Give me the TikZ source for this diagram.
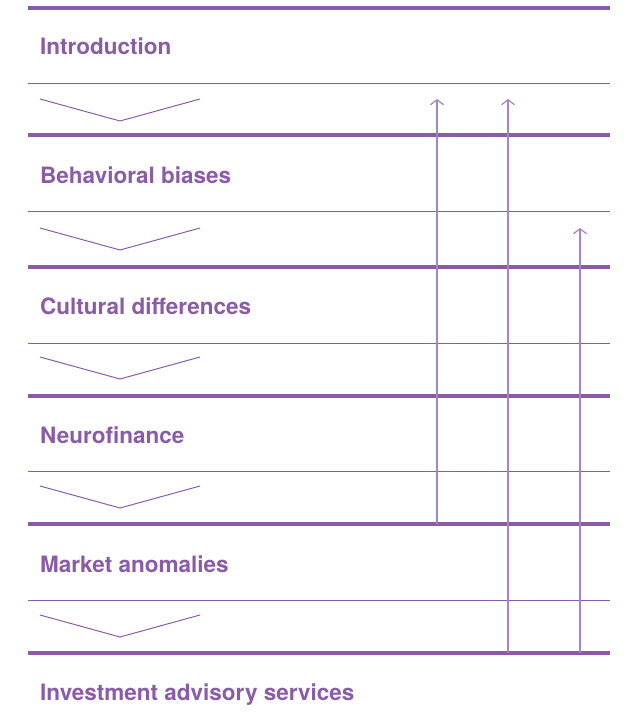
\documentclass[tikz,border=0pt]{standalone}
\usepackage{fontspec}
\setmainfont{TeX Gyre Heros}
\usetikzlibrary{arrows.meta}
\definecolor{pp}{HTML}{8A5CA8}
\definecolor{pl}{HTML}{A584C4}
\begin{document}
\begin{tikzpicture}[x=1pt,y=-1pt,
  thickrule/.style={draw=pp,line width=3.6pt},
  thinrule/.style={draw=pp,line width=1pt},
  chev/.style={draw=pp,line width=1pt},
  title/.style={anchor=base west,text=pp,font=\fontsize{22.5}{26}\selectfont\bfseries,inner sep=0pt},
  uparrow/.style={draw=pl,line width=1.2pt,-{Straight Barb[length=5pt,width=13pt]}}]
\useasboundingbox (0,0) rectangle (625,725);
% rules
\foreach \y in {8,135,267,396,524,653} \draw[thickrule] (28,\y) -- (610,\y);
\foreach \y in {83,211,343,471,600} \draw[thinrule] (28,\y) -- (610,\y);
% chevrons
\foreach \y in {99,228,357,486,615} \draw[chev] (40,\y) -- (120,\y+22) -- (200,\y);
% titles
\node[title] (intro) at (40,55) {Introduction};
\node[title] (behav) at (40,183) {Behavioral biases};
\node[title] (cult) at (40,314) {Cultural differences};
\node[title] (neuro) at (40,443) {Neurofinance};
\node[title] (market) at (40,572) {Market anomalies};
\node[title] (invest) at (40,700) {Investment advisory services};
% arrow endpoints
\coordinate (a1s) at (437,524); \coordinate (a1e) at (437,99);
\coordinate (a2s) at (508,653); \coordinate (a2e) at (508,99);
\coordinate (a3s) at (580,653); \coordinate (a3e) at (580,228);
\draw[uparrow] (a1s) -- (a1e);
\draw[uparrow] (a2s) -- (a2e);
\draw[uparrow] (a3s) -- (a3e);
\end{tikzpicture}
\end{document}
